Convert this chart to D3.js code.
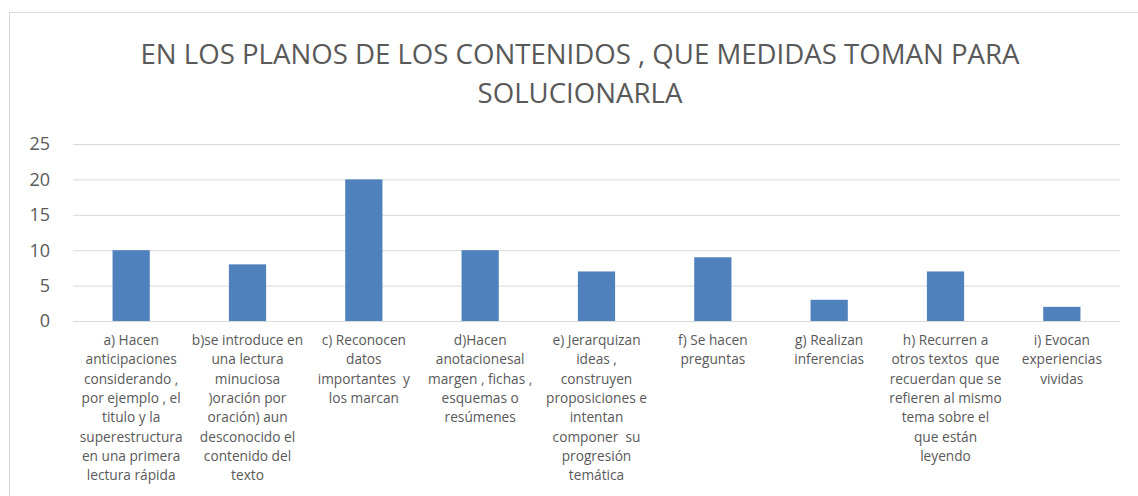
<!DOCTYPE html>
<html>
<head>
<meta charset="utf-8">
<script src="https://cdn.jsdelivr.net/npm/d3@7"></script>
<style>
  body { margin: 0; background: #fff; }
  text { font-family: "Open Sans", sans-serif; fill: #595959; }
</style>
</head>
<body>
<div id="chart"></div>
<script>
// Données du graphique
const titleLines = ["EN LOS PLANOS DE LOS CONTENIDOS , QUE MEDIDAS TOMAN PARA", "SOLUCIONARLA"];
const categories = ["a", "b", "c", "d", "e", "f", "g", "h", "i"];
const values = [10, 8, 20, 10, 7, 9, 3, 7, 2];
const yTicks = [0, 5, 10, 15, 20, 25];
const labels = [
    ["a) Hacen", "anticipaciones", "considerando ,", "por ejemplo , el", "titulo y la", "superestructura", "en una primera", "lectura rápida"],
    ["b)se introduce en", "una lectura", "minuciosa", ")oración por", "oración) aun", "desconocido el", "contenido del", "texto"],
    ["c) Reconocen", "datos", "importantes  y", "los marcan"],
    ["d)Hacen", "anotacionesal", "margen , fichas ,", "esquemas o", "resúmenes"],
    ["e) Jerarquizan", "ideas ,", "construyen", "proposiciones e", "intentan", "componer  su", "progresión", "temática"],
    ["f) Se hacen", "preguntas"],
    ["g) Realizan", "inferencias"],
    ["h) Recurren a", "otros textos  que", "recuerdan que se", "refieren al mismo", "tema sobre el", "que están", "leyendo"],
    ["i) Evocan", "experiencias", "vividas"]
];

const width = 1138, height = 496;
const plot = { left: 73, right: 1120, top: 144, bottom: 321 };

const svg = d3.select("#chart")
    .append("svg")
    .attr("width", width)
    .attr("height", height);

// cadre du graphique
svg.append("rect")
    .attr("x", 9.5).attr("y", 12.5)
    .attr("width", 1140).attr("height", 500)
    .attr("fill", "none")
    .attr("stroke", "#d9d9d9");

// titre
svg.append("text")
    .attr("text-anchor", "middle")
    .style("font-size", "27.6px")
    .selectAll("tspan")
    .data(titleLines)
    .join("tspan")
    .attr("x", 580)
    .attr("y", (d, i) => 64 + i * 39)
    .text(d => d);

const x = d3.scaleBand()
    .domain(categories)
    .range([plot.left, plot.right])
    .paddingInner(0.68)
    .paddingOuter(0.34);

const y = d3.scaleLinear()
    .domain([0, 25])
    .range([plot.bottom, plot.top]);

// grille
svg.append("g")
    .selectAll("line")
    .data(yTicks)
    .join("line")
    .attr("x1", plot.left).attr("x2", plot.right)
    .attr("y1", d => y(d) + 0.5).attr("y2", d => y(d) + 0.5)
    .attr("stroke", "#d9d9d9");

// axe Y
svg.append("g")
    .selectAll("text")
    .data(yTicks)
    .join("text")
    .attr("x", 50)
    .attr("y", d => y(d))
    .attr("dy", "0.35em")
    .attr("text-anchor", "end")
    .style("font-size", "18px")
    .text(d => d);

// barres
svg.append("g")
    .selectAll("rect")
    .data(values)
    .join("rect")
    .attr("x", (d, i) => x(categories[i]))
    .attr("y", d => y(d))
    .attr("width", x.bandwidth())
    .attr("height", d => y(0) - y(d))
    .attr("fill", "#4f81bd");

// étiquettes des catégories
svg.append("g")
    .selectAll("text")
    .data(labels)
    .join("text")
    .attr("text-anchor", "middle")
    .attr("xml:space", "preserve")
    .style("font-size", "13.7px")
    .style("white-space", "pre")
    .each(function(lines, i) {
        const cx = x(categories[i]) + x.bandwidth() / 2;
        d3.select(this).selectAll("tspan")
            .data(lines)
            .join("tspan")
            .attr("x", cx)
            .attr("y", (d, j) => 345 + j * 19.3)
            .text(d => d);
    });
</script>
</body>
</html>
